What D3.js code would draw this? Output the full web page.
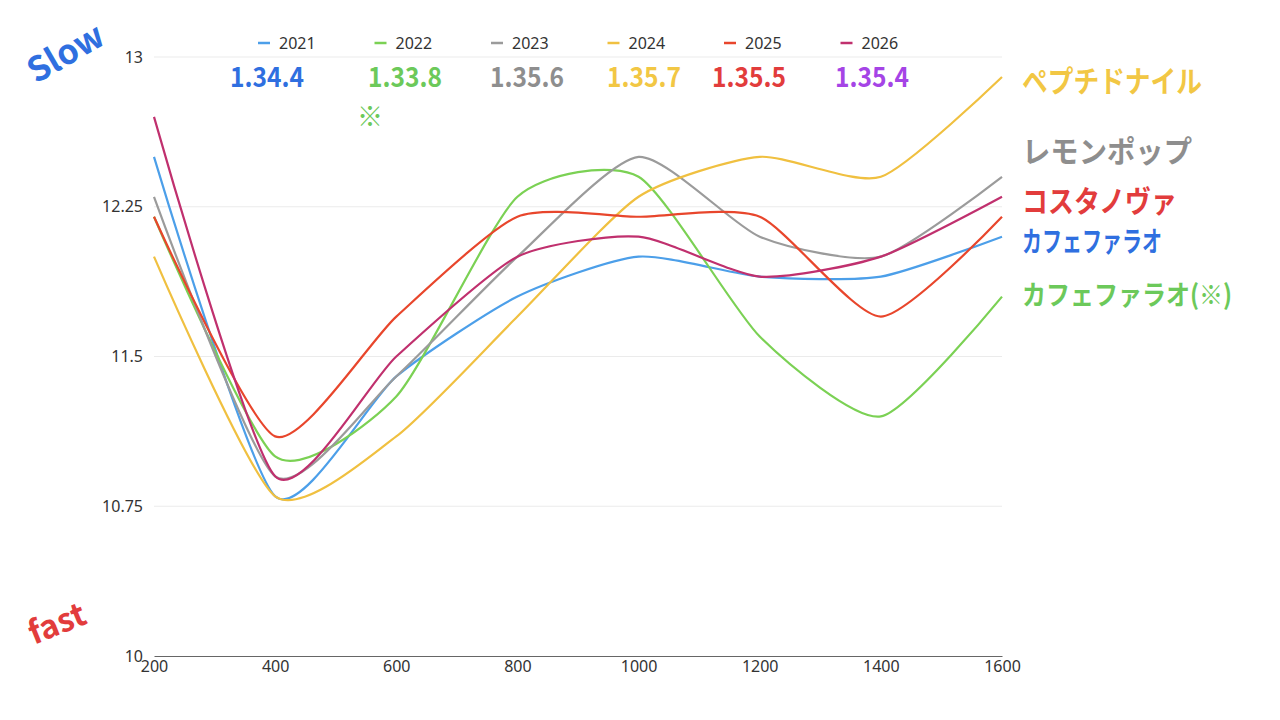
<!DOCTYPE html>
<html>
<head>
<meta charset="utf-8">
<script src="https://cdn.jsdelivr.net/npm/d3@7"></script>
<style>
  html, body { margin: 0; padding: 0; background: #fff; }
  svg { display: block; }
</style>
</head>
<body>
<svg id="chart" width="1280" height="720"></svg>
<script>
// ---- data ----
const distances = [200, 400, 600, 800, 1000, 1200, 1400, 1600];
const years = ["2021", "2022", "2023", "2024", "2025", "2026"];
const values2021 = [12.5, 10.8, 11.4, 11.8, 12.0, 11.9, 11.9, 12.1];
const values2022 = [12.2, 11.0, 11.3, 12.3, 12.4, 11.6, 11.2, 11.8];
const values2023 = [12.3, 10.9, 11.4, 12.0, 12.5, 12.1, 12.0, 12.4];
const values2024 = [12.0, 10.8, 11.1, 11.7, 12.3, 12.5, 12.4, 12.9];
const values2025 = [12.2, 11.1, 11.7, 12.2, 12.2, 12.2, 11.7, 12.2];
const values2026 = [12.7, 10.9, 11.5, 12.0, 12.1, 11.9, 12.0, 12.3];
const yTicks = [10, 10.75, 11.5, 12.25, 13];
const xTicks = [200, 400, 600, 800, 1000, 1200, 1400, 1600];
const finishTimes = ["1.34.4", "1.33.8", "1.35.6", "1.35.7", "1.35.5", "1.35.4"];
const horseNames = ["ペプチドナイル", "レモンポップ", "コスタノヴァ", "カフェファラオ", "カフェファラオ(※)"];

// ---- styles ----
const lineColors = ["#4c9fe9", "#7bd154", "#9b9b9b", "#f0c040", "#e8462c", "#c0306e"];
const seriesValues = [values2021, values2022, values2023, values2024, values2025, values2026];

const svg = d3.select("#chart");
const margin = { left: 154, right: 278, top: 57, bottom: 64 };
const W = 1280, H = 720;

const x = d3.scaleLinear().domain([200, 1600]).range([margin.left, W - margin.right]);
const y = d3.scaleLinear().domain([10, 13]).range([H - margin.bottom, margin.top]);

const font = "'Noto Sans', 'Noto Sans CJK JP', sans-serif";

// gridlines
svg.append("g").selectAll("line")
  .data(yTicks.filter(d => d !== 10))
  .join("line")
  .attr("x1", x(200)).attr("x2", x(1600))
  .attr("y1", d => y(d)).attr("y2", d => y(d))
  .attr("stroke", "#ebebeb").attr("stroke-width", 1);

// y axis labels
const yAxis = d3.axisLeft(y).tickValues(yTicks).tickSize(0).tickPadding(11)
  .tickFormat(d => String(d));
const gy = svg.append("g").attr("transform", `translate(${x(200)},0)`).call(yAxis);
gy.select(".domain").remove();
gy.selectAll("text").attr("font-family", font).attr("font-size", 16).attr("fill", "#333");

// x axis
const xAxis = d3.axisBottom(x).tickValues(xTicks).tickSize(0).tickPadding(5)
  .tickFormat(d => String(d));
const gx = svg.append("g").attr("transform", `translate(0,${y(10)})`).call(xAxis);
gx.select(".domain").attr("stroke", "#666").attr("stroke-width", 1.2);
gx.selectAll("text").attr("font-family", font).attr("font-size", 16).attr("fill", "#333");

// lines
const line = d3.line()
  .x((d, i) => x(distances[i]))
  .y(d => y(d))
  .curve(d3.curveCardinal.tension(0.35));

svg.append("g").selectAll("path")
  .data(seriesValues)
  .join("path")
  .attr("d", d => line(d))
  .attr("fill", "none")
  .attr("stroke", (d, i) => lineColors[i])
  .attr("stroke-width", 2.2)
  .attr("stroke-linejoin", "round");

// legend
const legendX0 = 258, legendStep = 116.5, legendY = 43;
const lg = svg.append("g").selectAll("g").data(years).join("g")
  .attr("transform", (d, i) => `translate(${legendX0 + i * legendStep},${legendY})`);
lg.append("line").attr("x1", 0).attr("x2", 12).attr("y1", 0).attr("y2", 0)
  .attr("stroke", (d, i) => lineColors[i]).attr("stroke-width", 2.5);
lg.append("text").attr("x", 21).attr("y", 5.5).text(d => d)
  .attr("font-family", font).attr("font-size", 16).attr("fill", "#333");

// handwritten-style annotations
const handFont = "'Noto Sans CJK JP', sans-serif";
const timeColors = ["#2f6fe0", "#6cc95a", "#8e8e8e", "#f2c744", "#e23c3c", "#a544e6"];
const timeX = [230, 368, 490, 607, 712, 835];
svg.append("g").selectAll("text").data(finishTimes).join("text")
  .attr("x", (d, i) => timeX[i]).attr("y", 87)
  .text(d => d)
  .attr("font-family", handFont).attr("font-weight", 700).attr("font-size", 27)
  .attr("fill", (d, i) => timeColors[i])
  .attr("textLength", 74).attr("lengthAdjust", "spacingAndGlyphs");

svg.append("text").attr("x", 357).attr("y", 126).text("※")
  .attr("font-family", handFont).attr("font-weight", 700).attr("font-size", 26).attr("fill", "#6cc95a");

svg.append("text").attr("transform", "translate(36,84) rotate(-30)").text("Slow")
  .attr("font-family", handFont).attr("font-weight", 700).attr("font-size", 34).attr("fill", "#2f6fe0");
svg.append("text").attr("transform", "translate(34,645) rotate(-22)").text("fast")
  .attr("font-family", handFont).attr("font-weight", 700).attr("font-size", 32).attr("fill", "#e23c3c");

const nameColors = ["#f2c744", "#8e8e8e", "#e23c3c", "#2f6fe0", "#6cc95a"];
const nameY = [92, 162, 212, 252, 305];
const nameW = [180, 170, 155, 140, 210];
const nameSize = [30, 30, 30, 28, 27];
svg.append("g").selectAll("text").data(horseNames).join("text")
  .attr("x", 1022).attr("y", (d, i) => nameY[i])
  .text(d => d)
  .attr("font-family", handFont).attr("font-weight", 700)
  .attr("font-size", (d, i) => nameSize[i])
  .attr("fill", (d, i) => nameColors[i])
  .attr("textLength", (d, i) => nameW[i]).attr("lengthAdjust", "spacingAndGlyphs");
</script>
</body>
</html>
